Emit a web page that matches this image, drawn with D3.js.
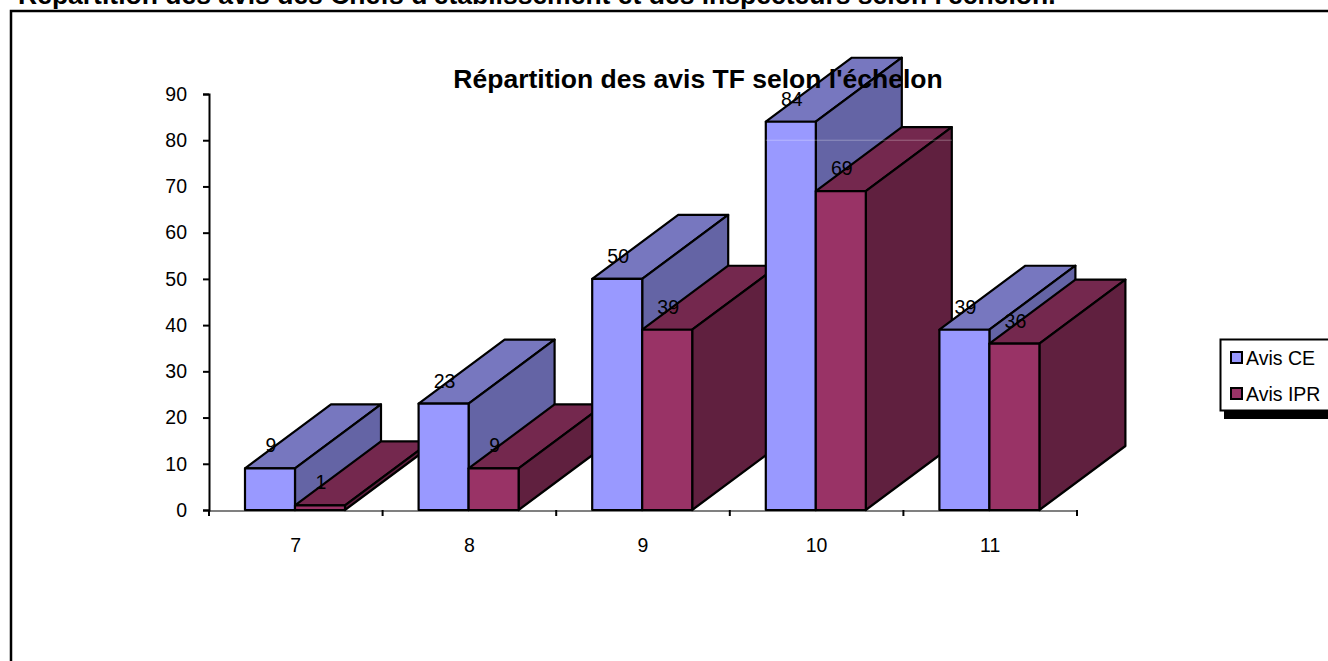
<!DOCTYPE html>
<html>
<head>
<meta charset="utf-8">
<script src="https://cdn.jsdelivr.net/npm/d3@7"></script>
<style>
html,body{margin:0;padding:0;background:#fff;overflow:hidden}
text{font-family:"Liberation Sans",Arial,sans-serif;fill:#000}
</style>
</head>
<body>
<svg id="svg1" width="1328" height="661"></svg>
<script>
const categories = ['7','8','9','10','11'];
const seriesNames = ['Avis CE','Avis IPR'];
const avisCE = [9,23,50,84,39];
const avisIPR = [1,9,39,69,36];
const yTicks = [0,10,20,30,40,50,60,70,80,90];

const colors = {
    'Avis CE': {front:'#9999ff', top:'#7777bf', side:'#6464a5'},
    'Avis IPR': {front:'#993366', top:'#74284e', side:'#60203f'}
};

// depth of the fake 3D bars
const depthX = 86, depthY = -64;
const labelSize = 19.5;

const svg = d3.select('#svg1');

const x0 = d3.scaleBand().domain(categories).range([209,1077]);
const x1 = d3.scaleBand().domain(seriesNames).range([36,136]);
const y = d3.scaleLinear().domain([0,90]).range([510,94]);

// page heading, cut off by the top of the picture
svg.append('text')
    .attr('x',18).attr('y',4)
    .attr('font-size',26.5).attr('font-weight','bold')
    .text("Répartition des avis des Chefs d'établissement et des inspecteurs selon l'échelon.");

// frame
svg.append('path')
    .attr('d','M11,661V11H1328')
    .attr('fill','none').attr('stroke','#000').attr('stroke-width',2.5);

// x axis, ticks sit on the band edges
const axisX = svg.append('g');
axisX.append('line')
    .attr('x1',x0.range()[0]).attr('x2',x0.range()[1])
    .attr('y1',y(0)+1).attr('y2',y(0)+1)
    .attr('stroke','#808080').attr('stroke-width',2);
axisX.selectAll('line.tick')
    .data(categories.map(c => x0(c)).concat(x0.range()[1]))
    .join('line')
    .attr('class','tick')
    .attr('x1',d => d).attr('x2',d => d)
    .attr('y1',y(0)).attr('y2',y(0)+6)
    .attr('stroke','#000').attr('stroke-width',2);
axisX.selectAll('text')
    .data(categories)
    .join('text')
    .attr('x',d => x0(d)+x0.bandwidth()/2)
    .attr('y',552)
    .attr('text-anchor','middle')
    .attr('font-size',labelSize)
    .text(d => d);

// y axis
const axisY = svg.append('g')
    .attr('transform','translate(209,0)')
    .call(d3.axisLeft(y).tickValues(yTicks).tickSize(6).tickPadding(16).tickSizeOuter(6));
axisY.selectAll('path,line').attr('stroke','#000').attr('stroke-width',2);
axisY.selectAll('text').attr('font-size',labelSize).attr('font-family','"Liberation Sans",Arial,sans-serif');

// bars, back to front
const bars = [];
categories.forEach((c,i) => {
    bars.push({cat:c, name:'Avis CE', value:avisCE[i]});
    bars.push({cat:c, name:'Avis IPR', value:avisIPR[i]});
});

const barG = svg.selectAll('g.bar')
    .data(bars)
    .join('g')
    .attr('class','bar')
    .attr('stroke','#000')
    .attr('stroke-width',2.2)
    .attr('stroke-linejoin','round');

barG.append('path') // top face
    .attr('fill',d => colors[d.name].top)
    .attr('d',d => {
        const l = x0(d.cat)+x1(d.name), r = l+x1.bandwidth(), t = y(d.value);
        return `M${l},${t}L${l+depthX},${t+depthY}L${r+depthX},${t+depthY}L${r},${t}Z`;
    });
barG.append('path') // side face
    .attr('fill',d => colors[d.name].side)
    .attr('d',d => {
        const r = x0(d.cat)+x1(d.name)+x1.bandwidth(), t = y(d.value), b = y(0);
        return `M${r},${t}L${r+depthX},${t+depthY}L${r+depthX},${b+depthY}L${r},${b}Z`;
    });
barG.append('rect') // front face
    .attr('fill',d => colors[d.name].front)
    .attr('x',d => x0(d.cat)+x1(d.name))
    .attr('y',d => y(d.value))
    .attr('width',x1.bandwidth())
    .attr('height',d => y(0)-y(d.value));

// faint pale line left across the tallest bars
svg.append('line')
    .attr('x1',x0('10')+36).attr('x2',x0('10')+x1.range()[1]+depthX)
    .attr('y1',y(80)).attr('y2',y(80))
    .attr('stroke','#fff').attr('stroke-opacity',0.3);

// value labels
svg.selectAll('text.val')
    .data(bars)
    .join('text')
    .attr('class','val')
    .attr('x',d => x0(d.cat)+x1(d.name)+x1.bandwidth()/2+1)
    .attr('y',d => y(d.value)-16)
    .attr('text-anchor','middle')
    .attr('font-size',labelSize)
    .text(d => d.value);

// chart title
svg.append('text')
    .attr('x',698).attr('y',88)
    .attr('text-anchor','middle')
    .attr('font-size',26.5).attr('font-weight','bold')
    .text("Répartition des avis TF selon l'échelon");

// legend with its hard shadow, runs off the right edge
const legend = svg.append('g');
legend.append('rect')
    .attr('x',1224).attr('y',345).attr('width',110).attr('height',74)
    .attr('fill','#000');
legend.append('rect')
    .attr('x',1220.5).attr('y',339.5).attr('width',112).attr('height',71)
    .attr('fill','#fff').attr('stroke','#000').attr('stroke-width',2);
const legendRows = legend.selectAll('g')
    .data(seriesNames)
    .join('g')
    .attr('transform',(d,i) => `translate(1231,${358+i*36})`);
legendRows.append('rect')
    .attr('x',0).attr('y',-6).attr('width',11).attr('height',11)
    .attr('fill',d => colors[d].front)
    .attr('stroke','#000').attr('stroke-width',2);
legendRows.append('text')
    .attr('x',15).attr('y',7)
    .attr('font-size',labelSize)
    .text(d => d);
</script>
</body>
</html>
